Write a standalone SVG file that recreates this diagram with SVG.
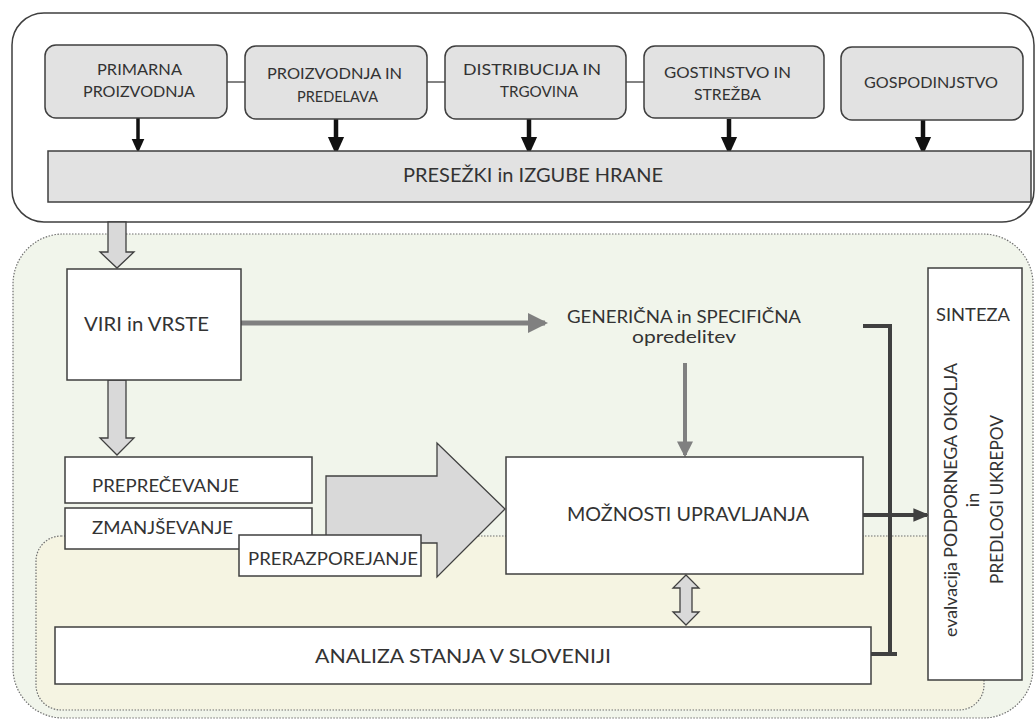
<svg xmlns="http://www.w3.org/2000/svg" width="1036" height="722" viewBox="0 0 1036 722">
<defs>
<style>
.t{font-family:Lato,"Open Sans","Liberation Sans",sans-serif;fill:#333333}
.gbox{fill:#e2e2e2;stroke:#3f3f3f;stroke-width:1.5}
.wbox{fill:#ffffff;stroke:#3f3f3f;stroke-width:1.5}
.blk{fill:#d9d9d9;stroke:#404040;stroke-width:1.3;stroke-linejoin:miter}
.region{stroke:#6f6f6f;stroke-width:1.2;stroke-dasharray:1.5 1.5}
.link{stroke:#404040;stroke-width:1.3}
</style>
<marker id="blackHead" markerWidth="4" markerHeight="4" refX="2" refY="2" orient="auto" markerUnits="strokeWidth"><path d="M0,0.2 L4,2 L0,3.8 z" fill="#111"/></marker>
<marker id="grayHead" markerWidth="4" markerHeight="4" refX="3.4" refY="2" orient="auto" markerUnits="strokeWidth"><path d="M0,0 L4,2 L0,4 z" fill="#808080"/></marker>
<marker id="darkHead" markerWidth="4" markerHeight="4" refX="3.4" refY="2" orient="auto" markerUnits="strokeWidth"><path d="M0,0.3 L4,2 L0,3.7 z" fill="#404040"/></marker>
</defs>
<rect width="1036" height="722" fill="#ffffff"/>

<!-- regions -->
<g id="region-top"><rect x="12" y="13" width="1022" height="209" rx="32" fill="#ffffff" stroke="#3f3f3f" stroke-width="1.5"/></g>
<g id="region-green"><rect class="region" x="13" y="234" width="1020" height="484" rx="50" fill="#f1f5eb"/></g>
<g id="region-yellow"><rect class="region" x="36" y="536" width="948" height="174" rx="25" fill="#f5f4e2"/></g>

<!-- connectors -->
<g id="connectors">
<line class="link" x1="227" y1="82" x2="245" y2="82"/>
<line class="link" x1="427" y1="82" x2="445" y2="82"/>
<line class="link" x1="626" y1="82" x2="644" y2="82"/>
<line x1="138" y1="118" x2="138" y2="146" stroke="#111" stroke-width="3.5" marker-end="url(#blackHead)"/>
<line x1="336" y1="118" x2="336" y2="146" stroke="#111" stroke-width="4.5" marker-end="url(#blackHead)"/>
<line x1="529" y1="119" x2="529" y2="146" stroke="#111" stroke-width="4.5" marker-end="url(#blackHead)"/>
<line x1="729" y1="119" x2="729" y2="146" stroke="#111" stroke-width="4.5" marker-end="url(#blackHead)"/>
<line x1="923" y1="120" x2="923" y2="146" stroke="#111" stroke-width="4.5" marker-end="url(#blackHead)"/>
<polygon class="blk" points="108,222 126,222 126,252 134,252 117,268 100,252 108,252"/>
<polygon class="blk" points="108,380 126,380 126,438 134,438 117,455 100,438 108,438"/>
<line x1="241" y1="323" x2="545" y2="323" stroke="#808080" stroke-width="5" marker-end="url(#grayHead)"/>
<line x1="685" y1="363" x2="685" y2="455" stroke="#808080" stroke-width="4" marker-end="url(#grayHead)"/>
<polygon class="blk" points="326,476 437,476 437,443 505,509 437,577 437,543 326,543"/>
<polygon class="blk" points="686,575 699,588 692,588 692,612 699,612 686,625 673,612 680,612 680,588 673,588"/>
<line x1="863" y1="515" x2="927" y2="515" stroke="#404040" stroke-width="4" marker-end="url(#darkHead)"/>
<path d="M863,326 H890 V654 M871,654 H897" fill="none" stroke="#404040" stroke-width="4"/>
</g>

<!-- top nodes -->
<g id="n-primarna"><rect class="gbox" x="45" y="45" width="182" height="73" rx="11"/>
<text class="t" x="97" y="75" font-size="16" textLength="85" lengthAdjust="spacingAndGlyphs">PRIMARNA</text>
<text class="t" x="83" y="97" font-size="16" textLength="112" lengthAdjust="spacingAndGlyphs">PROIZVODNJA</text></g>
<g id="n-proizvodnja"><rect class="gbox" x="245" y="46" width="182" height="73" rx="11"/>
<text class="t" x="267" y="79" font-size="16" textLength="135" lengthAdjust="spacingAndGlyphs">PROIZVODNJA IN</text>
<text class="t" x="297" y="102" font-size="16" textLength="81" lengthAdjust="spacingAndGlyphs">PREDELAVA</text></g>
<g id="n-distribucija"><rect class="gbox" x="445" y="46" width="181" height="73" rx="11"/>
<text class="t" x="463" y="75" font-size="16" textLength="138" lengthAdjust="spacingAndGlyphs">DISTRIBUCIJA IN</text>
<text class="t" x="500" y="97" font-size="16" textLength="78" lengthAdjust="spacingAndGlyphs">TRGOVINA</text></g>
<g id="n-gostinstvo"><rect class="gbox" x="644" y="46" width="180" height="72" rx="11"/>
<text class="t" x="664" y="78" font-size="16" textLength="127" lengthAdjust="spacingAndGlyphs">GOSTINSTVO  IN</text>
<text class="t" x="694" y="100" font-size="16" textLength="67" lengthAdjust="spacingAndGlyphs">STREŽBA</text></g>
<g id="n-gospodinjstvo"><rect class="gbox" x="841" y="47" width="182" height="73" rx="11"/>
<text class="t" x="864" y="88" font-size="16" textLength="134" lengthAdjust="spacingAndGlyphs">GOSPODINJSTVO</text></g>
<g id="n-presezki"><rect class="gbox" x="48" y="151" width="983" height="51"/>
<text class="t" x="403" y="182" font-size="19" textLength="260" lengthAdjust="spacingAndGlyphs">PRESEŽKI in IZGUBE HRANE</text></g>

<!-- lower nodes -->
<g id="n-viri"><rect class="wbox" x="67" y="269" width="174" height="111"/>
<text class="t" x="84" y="331" font-size="20" textLength="125" lengthAdjust="spacingAndGlyphs">VIRI in VRSTE</text></g>
<g id="n-genericna">
<text class="t" x="567" y="323" font-size="18" textLength="234" lengthAdjust="spacingAndGlyphs">GENERIČNA in SPECIFIČNA</text>
<text class="t" x="632" y="343" font-size="18" textLength="104" lengthAdjust="spacingAndGlyphs">opredelitev</text></g>
<g id="n-preprecevanje"><rect class="wbox" x="65" y="457" width="247" height="46"/>
<text class="t" x="92" y="492" font-size="18" textLength="147" lengthAdjust="spacingAndGlyphs">PREPREČEVANJE</text></g>
<g id="n-zmanjsevanje"><rect class="wbox" x="65" y="508" width="247" height="41"/>
<text class="t" x="92" y="534" font-size="18" textLength="141" lengthAdjust="spacingAndGlyphs">ZMANJŠEVANJE</text></g>
<g id="n-prerazporejanje"><rect class="wbox" x="239" y="535" width="182" height="41"/>
<text class="t" x="248" y="565" font-size="18" textLength="170" lengthAdjust="spacingAndGlyphs">PRERAZPOREJANJE</text></g>
<g id="n-moznosti"><rect class="wbox" x="506" y="457" width="357" height="117"/>
<text class="t" x="567" y="521" font-size="20" textLength="242" lengthAdjust="spacingAndGlyphs">MOŽNOSTI UPRAVLJANJA</text></g>
<g id="n-analiza"><rect class="wbox" x="55" y="627" width="816" height="57"/>
<text class="t" x="315" y="663" font-size="20" textLength="296" lengthAdjust="spacingAndGlyphs">ANALIZA STANJA V SLOVENIJI</text></g>
<g id="n-sinteza"><rect class="wbox" x="928" y="268" width="94" height="412"/>
<text class="t" x="936" y="321" font-size="18" textLength="74" lengthAdjust="spacingAndGlyphs">SINTEZA</text>
<text class="t" transform="translate(957,637) rotate(-90)" x="0" y="0" font-size="18" textLength="274" lengthAdjust="spacingAndGlyphs">evalvacija PODPORNEGA OKOLJA</text>
<text class="t" transform="translate(979,500) rotate(-90)" x="0" y="0" font-size="18" text-anchor="middle">in</text>
<text class="t" transform="translate(1003,584) rotate(-90)" x="0" y="0" font-size="18" textLength="169" lengthAdjust="spacingAndGlyphs">PREDLOGI UKREPOV</text></g>
</svg>
